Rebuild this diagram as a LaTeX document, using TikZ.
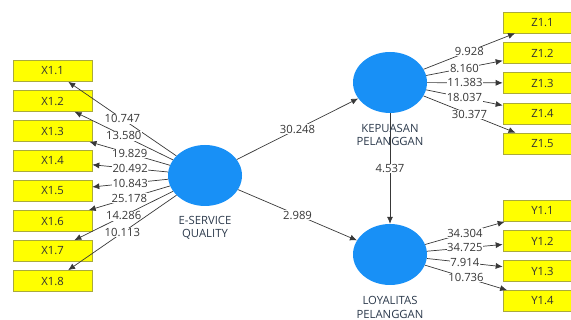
\documentclass[tikz,border=0pt]{standalone}
\usepackage{fontspec}
\setmainfont{Open Sans}
\usepackage{tikz}
\usetikzlibrary{shapes.geometric,arrows.meta}
\definecolor{lvblue}{RGB}{24,144,246}
\definecolor{mvyellow}{RGB}{255,255,0}
\definecolor{mvline}{RGB}{170,170,60}
\definecolor{pathgray}{RGB}{56,56,56}
\definecolor{lvtext}{RGB}{44,58,76}

\begin{document}
\begin{tikzpicture}[
		x=1pt,y=-1pt,
		font=\fontsize{11.3}{13}\selectfont,
		indicator/.style={rectangle,draw=mvline,fill=mvyellow,line width=0.6pt,
			minimum width=79,minimum height=21,inner sep=0,text=black!80},
		construct/.style={ellipse,fill=lvblue,minimum width=74,minimum height=61,inner sep=0},
		lvname/.style={align=center,text=lvtext,inner sep=0,font=\fontsize{11.3}{13.5}\selectfont},
		path/.style={draw=pathgray,line width=0.7pt,-{Latex[length=7pt,width=6pt]}},
		val/.style={fill=white,inner sep=0.6pt,text=pathgray}]
		\useasboundingbox (0,0) rectangle (571,320);
		% latent variables
		\node[construct] (esq) at (205,175.5) {};
		\node[construct] (kep) at (390,82.5) {};
		\node[construct] (loy) at (390,254.5) {};
		% indicators
		\node[indicator] (x1) at (52.5,71) {X1.1};
		\node[indicator] (x2) at (52.5,101) {X1.2};
		\node[indicator] (x3) at (52.5,131) {X1.3};
		\node[indicator] (x4) at (52.5,161) {X1.4};
		\node[indicator] (x5) at (52.5,191) {X1.5};
		\node[indicator] (x6) at (52.5,221) {X1.6};
		\node[indicator] (x7) at (52.5,251) {X1.7};
		\node[indicator] (x8) at (52.5,281) {X1.8};
		\node[indicator] (z1) at (542.5,22.5) {Z1.1};
		\node[indicator] (z2) at (542.5,53) {Z1.2};
		\node[indicator] (z3) at (542.5,83) {Z1.3};
		\node[indicator] (z4) at (542.5,113.5) {Z1.4};
		\node[indicator] (z5) at (542.5,143.5) {Z1.5};
		\node[indicator] (y1) at (542.5,211) {Y1.1};
		\node[indicator] (y2) at (542.5,241) {Y1.2};
		\node[indicator] (y3) at (542.5,271) {Y1.3};
		\node[indicator] (y4) at (542.5,301) {Y1.4};
		% inner model
		\draw[path] (esq) -- (kep) node[val,pos=0.5] {30.248};
		\draw[path] (esq) -- (loy) node[val,pos=0.5] {2.989};
		\draw[path] (kep) -- (loy) node[val,pos=0.5] {4.537};
		% outer model
		\draw[path] (esq) -- (x1) node[val,pos=0.5] {10.747};
		\draw[path] (esq) -- (x2) node[val,pos=0.5] {13.580};
		\draw[path] (esq) -- (x3) node[val,pos=0.5] {19.829};
		\draw[path] (esq) -- (x4) node[val,pos=0.5] {20.492};
		\draw[path] (esq) -- (x5) node[val,pos=0.5] {10.843};
		\draw[path] (esq) -- (x6) node[val,pos=0.5] {25.178};
		\draw[path] (esq) -- (x7) node[val,pos=0.5] {14.286};
		\draw[path] (esq) -- (x8) node[val,pos=0.5] {10.113};
		\draw[path] (kep) -- (z1) node[val,pos=0.5] {9.928};
		\draw[path] (kep) -- (z2) node[val,pos=0.5] {8.160};
		\draw[path] (kep) -- (z3) node[val,pos=0.5] {11.383};
		\draw[path] (kep) -- (z4) node[val,pos=0.5] {18.037};
		\draw[path] (kep) -- (z5) node[val,pos=0.5] {30.377};
		\draw[path] (loy) -- (y1) node[val,pos=0.5] {34.304};
		\draw[path] (loy) -- (y2) node[val,pos=0.5] {34.725};
		\draw[path] (loy) -- (y3) node[val,pos=0.5] {7.914};
		\draw[path] (loy) -- (y4) node[val,pos=0.5] {10.736};
		% names
		\node[lvname] (esqname) at (205,228) {E-SERVICE\\QUALITY};
		\node[lvname] (kepname) at (390,135) {KEPUASAN\\PELANGGAN};
		\node[lvname] (loyname) at (390,307.5) {LOYALITAS\\PELANGGAN};
\end{tikzpicture}
\end{document}
